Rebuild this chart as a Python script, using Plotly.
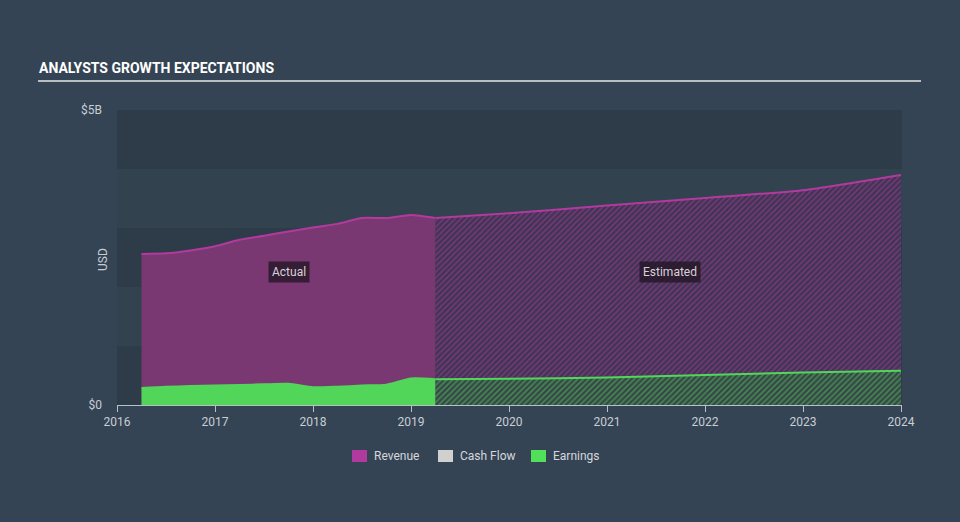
import plotly.graph_objects as go

# ---- data (billions USD) ----
act_years = [2016.25, 2016.5, 2016.75, 2017.0, 2017.25, 2017.5, 2017.75,
             2018.0, 2018.25, 2018.5, 2018.75, 2019.0, 2019.25]
act_revenue = [2.56, 2.57, 2.62, 2.69, 2.80, 2.87, 2.94,
               3.01, 3.07, 3.17, 3.17, 3.22, 3.17]
act_earnings = [0.29, 0.31, 0.32, 0.33, 0.34, 0.35, 0.36,
                0.30, 0.31, 0.33, 0.345, 0.45, 0.435]

est_years = [2019.25, 2020.0, 2021.0, 2022.0, 2023.0, 2024.0]
est_revenue = [3.17, 3.25, 3.38, 3.51, 3.64, 3.90]
est_earnings = [0.435, 0.445, 0.465, 0.51, 0.55, 0.58]

x_ticks = [2016, 2017, 2018, 2019, 2020, 2021, 2022, 2023, 2024]
y_ticks = [0, 5e9]
y_tick_labels = ["$0", "$5B"]

legend_names = ["Revenue", "Cash Flow", "Earnings"]
legend_colors = ["#b03a9e", "#d0d0d0", "#52e05a"]

B = 1e9
REV_LINE = "#b23a9f"
REV_FILL = "#7a3872"
EARN = "#52d65a"
TXT = "#c8ced4"

W, H = 960, 522
L, R, T, BOT = 117, 58, 110, 117
PW, PH = W - L - R, H - T - BOT


def px_x(p):
    return (p - L) / PW


def px_y(p):
    return (H - BOT - p) / PH


fig = go.Figure()

# background bands
band_cols = ["#2e3b49", "#33424f", "#2e3b49", "#33424f", "#2e3b49"]
for i, c in enumerate(band_cols):
    fig.add_shape(type="rect", xref="paper", yref="y", x0=0, x1=1,
                  y0=i * B, y1=(i + 1) * B, fillcolor=c, line_width=0, layer="below")

# actual revenue
fig.add_trace(go.Scatter(x=act_years, y=[v * B for v in act_revenue], mode="lines",
                         line=dict(color=REV_LINE, width=2, shape="spline", smoothing=0.6),
                         fill="tozeroy", fillcolor=REV_FILL, showlegend=False, hoverinfo="skip"))
# estimated revenue
fig.add_trace(go.Scatter(x=est_years, y=[v * B for v in est_revenue], mode="lines",
                         line=dict(color=REV_LINE, width=2, shape="spline", smoothing=0.6),
                         fill="tozeroy",
                         fillpattern=dict(shape="/", fgcolor="#a83e9c", bgcolor="#3e3452",
                                          size=4, solidity=0.45),
                         showlegend=False, hoverinfo="skip"))
# actual earnings
fig.add_trace(go.Scatter(x=act_years, y=[v * B for v in act_earnings], mode="lines",
                         line=dict(color=EARN, width=2, shape="spline", smoothing=0.6),
                         fill="tozeroy", fillcolor=EARN, showlegend=False, hoverinfo="skip"))
# estimated earnings
fig.add_trace(go.Scatter(x=est_years, y=[v * B for v in est_earnings], mode="lines",
                         line=dict(color=EARN, width=2, shape="spline", smoothing=0.6),
                         fill="tozeroy",
                         fillpattern=dict(shape="/", fgcolor="#5cc862", bgcolor="#344746",
                                          size=4, solidity=0.42),
                         showlegend=False, hoverinfo="skip"))

fig.add_annotation(x=2017.75, y=2.25 * B, text="Actual", showarrow=False,
                   font=dict(family="Roboto", size=12, color="#d8d2d8"),
                   bgcolor="rgba(35,22,38,0.8)", borderpad=3)
fig.add_annotation(x=2021.64, y=2.25 * B, text="Estimated", showarrow=False,
                   font=dict(family="Roboto", size=12, color="#d8d2d8"),
                   bgcolor="rgba(35,22,38,0.8)", borderpad=3)

# manual legend
leg_x = [352, 438, 531]
for xs, name, col in zip(leg_x, legend_names, legend_colors):
    fig.add_shape(type="rect", xref="paper", yref="paper",
                  x0=px_x(xs), x1=px_x(xs + 15), y0=px_y(450), y1=px_y(462),
                  fillcolor=col, line_width=0)
    fig.add_annotation(xref="paper", yref="paper", x=px_x(xs + 20), y=px_y(456),
                       xanchor="left", yanchor="middle", showarrow=False, text=name,
                       font=dict(family="Roboto", size=12, color="#d4d8dc"))

# title
fig.add_annotation(xref="paper", yref="paper", x=px_x(37), y=px_y(68), xanchor="left",
                   yanchor="middle", showarrow=False, text="<b>ANALYSTS GROWTH EXPECTATIONS</b>",
                   font=dict(family="Roboto", size=14, color="#ffffff"))
fig.add_shape(type="line", xref="paper", yref="paper", x0=px_x(38), x1=px_x(921),
              y0=px_y(81), y1=px_y(81), line=dict(color="#b8bec4", width=2))
# USD axis title
fig.add_annotation(xref="paper", yref="paper", x=px_x(103), y=px_y(260), textangle=-90,
                   showarrow=False, text="USD", xanchor="center", yanchor="middle",
                   font=dict(family="Roboto", size=12, color=TXT))

fig.update_layout(
    width=W, height=H,
    margin=dict(l=L, r=R, t=T, b=BOT),
    paper_bgcolor="#344454",
    plot_bgcolor="#2e3b49",
    font=dict(family="Roboto", size=12, color=TXT),
    showlegend=False,
    xaxis=dict(range=[2016, 2024.01], tickvals=x_ticks, ticktext=[str(t) for t in x_ticks],
               showgrid=False, zeroline=False, showline=True, linecolor="#b8c0c8", linewidth=1,
               ticks="outside", ticklen=6, tickcolor="#b8c0c8",
               tickfont=dict(family="Roboto", size=12, color=TXT)),
    yaxis=dict(range=[0, 5e9], tickvals=y_ticks, ticktext=y_tick_labels, showgrid=False,
               zeroline=False, showline=False, ticklabelstandoff=14,
               tickfont=dict(family="Roboto", size=12, color=TXT)),
)

fig.write_html("out.html", config={"displayModeBar": False},
               post_script="document.body.style.margin='0px';")
